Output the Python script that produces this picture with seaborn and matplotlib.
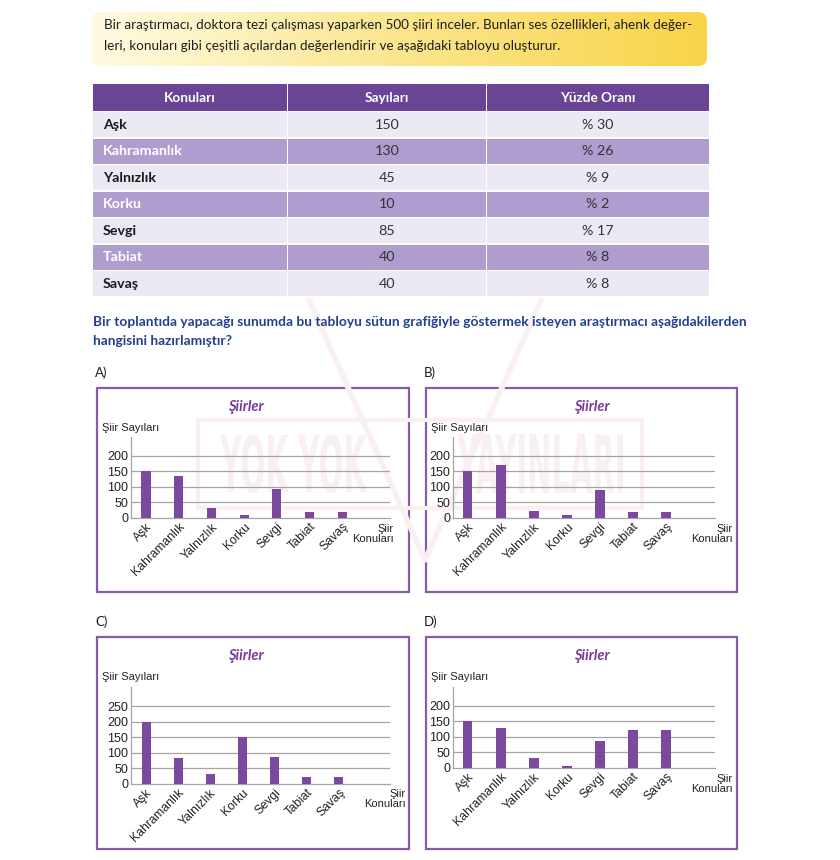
import numpy as np
import matplotlib
matplotlib.use("Agg")
import matplotlib.pyplot as plt
from matplotlib.patches import FancyBboxPatch, Rectangle, PathPatch
from matplotlib.textpath import TextPath
from matplotlib.font_manager import FontProperties
from matplotlib.transforms import Affine2D
import seaborn as sns

# --- data ---
konular = ["Aşk", "Kahramanlık", "Yalnızlık", "Korku", "Sevgi", "Tabiat", "Savaş"]
sayilar = ["150", "130", "45", "10", "85", "40", "40"]
yuzde = ["% 30", "% 26", "% 9", "% 2", "% 17", "% 8", "% 8"]

secenek_a = [150, 134, 31, 10, 92, 20, 20]
secenek_b = [150, 171, 24, 10, 89, 20, 20]
secenek_c = [200, 83, 33, 150, 86, 23, 23]
secenek_d = [150, 128, 31, 5, 88, 122, 122]

giris = ["Bir araştırmacı, doktora tezi çalışması yaparken 500 şiiri inceler. Bunları ses özellikleri, ahenk değer-",
         "leri, konuları gibi çeşitli açılardan değerlendirir ve aşağıdaki tabloyu oluşturur."]
soru = ["Bir toplantıda yapacağı sunumda bu tabloyu sütun grafiğiyle göstermek isteyen araştırmacı aşağıdakilerden",
        "hangisini hazırlamıştır?"]

sns.set_style("white")
plt.rcParams['font.family'] = ['Lato', 'DejaVu Sans']

W, H = 840, 860
fig = plt.figure(figsize=(8.4, 8.6), dpi=100)
fig.patch.set_facecolor("white")

bg = fig.add_axes([0, 0, 1, 1])
bg.axis("off")

# yellow intro box with gradient
box = FancyBboxPatch((92, 12), 615, 54, boxstyle="round,pad=0,rounding_size=9",
                     facecolor="none", edgecolor="none")
bg.add_patch(box)
grad = np.linspace(0, 1, 256).reshape(1, -1)
cmap = matplotlib.colors.LinearSegmentedColormap.from_list("yel", ["#fffbe3", "#fbe68e", "#f9d449"])
img = bg.imshow(grad, extent=[92, 707, 66, 12], cmap=cmap, aspect="auto", zorder=1)
img.set_clip_path(box)
for i, line in enumerate(giris):
    bg.text(104, 25 + i * 21, line, fontsize=9.7, color="#1e1e1e", va="center", ha="left", zorder=3)

# table
header_c = "#6a4595"
light_c = "#ede9f4"
dark_c = "#af9dd0"
cols = [(93, 287), (288, 486), (487, 709)]
top, head_h, row_h = 84, 27, 26.5
for x0, x1 in cols:
    bg.add_patch(Rectangle((x0, top), x1 - x0, head_h, facecolor=header_c, edgecolor="none", zorder=2))
heads = ["Konuları", "Sayıları", "Yüzde Oranı"]
for (x0, x1), h in zip(cols, heads):
    bg.text((x0 + x1) / 2, top + head_h / 2, h, color="white", fontsize=9.8, fontweight="bold",
            ha="center", va="center", zorder=3)
for r in range(len(konular)):
    y0 = top + head_h + r * row_h
    fc = light_c if r % 2 == 0 else dark_c
    for x0, x1 in cols:
        bg.add_patch(Rectangle((x0, y0 + 1), x1 - x0, row_h - 1.5, facecolor=fc, edgecolor="none", zorder=2))
    yc = y0 + row_h / 2 + 0.5
    bg.text(103, yc, konular[r], fontsize=10.3, fontweight="bold",
            color="#1a1a1a" if r % 2 == 0 else "white", ha="left", va="center", zorder=3)
    bg.text(387, yc, sayilar[r], fontsize=10.3, color="#333333", ha="center", va="center", zorder=3)
    bg.text(598, yc, yuzde[r], fontsize=10.3, color="#333333", ha="center", va="center", zorder=3)

# question
for i, line in enumerate(soru):
    bg.text(93, 322 + i * 19, line, fontsize=9.9, fontweight="bold", color="#22408e",
            ha="left", va="center", zorder=3)

bar_c = "#7b4a9e"
border_c = "#8b5bab"
grid_c = "#a5a5a5"
wm_c = "#fbf0f1"


def px_axes(x0, y0, x1, y1):
    return fig.add_axes([x0 / W, 1 - y1 / H, (x1 - x0) / W, (y1 - y0) / H])


def fit_text(s, x0, y0, x1, y1):
    # faint watermark word squeezed into a pixel box
    tp = TextPath((0, 0), s, size=100, prop=FontProperties(family="DejaVu Sans", weight="bold"))
    ext = tp.get_extents()
    tr = (Affine2D().translate(-ext.x0, -ext.y0)
          .scale((x1 - x0) / ext.width, -(y1 - y0) / ext.height)
          .translate(x0, y1))
    bg.add_patch(PathPatch(tr.transform_path(tp), facecolor=wm_c, edgecolor="none", zorder=2.5))


def draw_option(letter, values, box_xy, axes_box, ylim, yticks, xlim, title_x, konu_xy):
    bx0, by0, bx1, by1 = box_xy
    bg.text(bx0 - 2, by0 - 15, letter + ")", fontsize=9.5, color="#1a1a1a", ha="left", va="center")
    bg.add_patch(Rectangle((bx0, by0), bx1 - bx0, by1 - by0, facecolor="white",
                           edgecolor=border_c, linewidth=1.6, zorder=2))
    bg.text(title_x, by0 + 19, "Şiirler", fontsize=10.5, fontweight="bold", fontstyle="italic",
            color="#7a3a9c", ha="center", va="center", zorder=3)
    bg.text(bx0 + 5, by0 + 40, "Şiir Sayıları", fontsize=8, family="Liberation Sans",
            color="#222222", ha="left", va="center", zorder=3)
    bg.text(konu_xy[0], konu_xy[1], "Şiir\nKonuları", fontsize=8, family="Liberation Sans",
            color="#222222", ha="right", va="center", multialignment="right", linespacing=1.1, zorder=3)

    ax = px_axes(*axes_box)
    ax.set_facecolor("none")
    sns.barplot(x=konular, y=values, color=bar_c, saturation=1, width=0.28, linewidth=0,
                ax=ax, zorder=3)
    ax.set_ylim(*ylim)
    ax.set_xlim(*xlim)
    ax.set_yticks(yticks)
    for t in yticks[1:]:
        ax.axhline(t, color=grid_c, linewidth=0.9, zorder=1)
    for s in ["top", "right"]:
        ax.spines[s].set_visible(False)
    for s in ["left", "bottom"]:
        ax.spines[s].set_color(grid_c)
        ax.spines[s].set_linewidth(0.9)
    ax.tick_params(length=0, pad=2)
    ax.set_yticklabels([str(t) for t in yticks], fontsize=9, family="Liberation Sans", color="#222222")
    ax.set_xticks(range(len(konular)))
    ax.set_xticklabels(konular, rotation=45, ha="right", rotation_mode="anchor",
                       fontsize=8.8, family="Liberation Sans", color="#222222")
    ax.set_xlabel("")
    ax.set_ylabel("")


draw_option("A", secenek_a, (97, 388, 409, 592), (131, 437, 390, 518), (0, 261),
            [0, 50, 100, 150, 200], (-0.46, 7.46), 246, (394, 534))
draw_option("B", secenek_b, (426, 388, 737, 592), (453, 437, 715, 518), (0, 261),
            [0, 50, 100, 150, 200], (-0.45, 7.48), 592, (733, 534))
draw_option("C", secenek_c, (97, 637, 409, 849), (131, 687, 390, 784), (0, 311),
            [0, 50, 100, 150, 200, 250], (-0.47, 7.6), 246, (406, 799))
draw_option("D", secenek_d, (426, 637, 737, 849), (453, 687, 715, 768), (0, 261),
            [0, 50, 100, 150, 200], (-0.45, 7.48), 592, (733, 784))

# faint publisher watermark
fit_text("YOK YOK", 220, 434, 367, 493)
fit_text("YAYINLARI", 457, 434, 623, 493)
bg.add_patch(Rectangle((198, 420), 444, 88, facecolor="none", edgecolor=wm_c, linewidth=3, zorder=2.5))
bg.plot([308, 425, 542], [298, 560, 298], color=wm_c, linewidth=4, zorder=2.4, solid_capstyle="butt")
bg.set_xlim(0, W)
bg.set_ylim(H, 0)

fig.savefig("out.png", dpi=100)
